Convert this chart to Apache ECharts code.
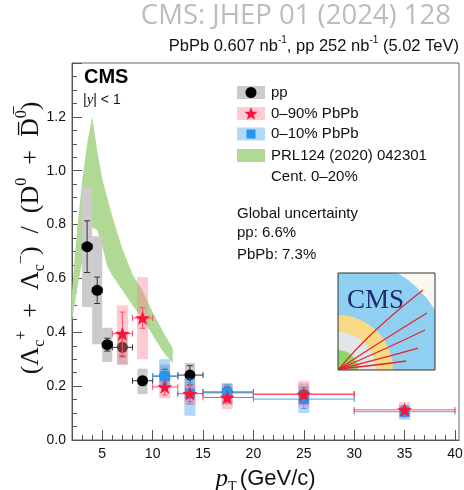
<!DOCTYPE html>
<html>
<head>
<meta charset="utf-8">
<script src="https://cdn.jsdelivr.net/npm/echarts@6/dist/echarts.min.js"></script>
<style>
html, body { margin: 0; padding: 0; background: #fff; }
#chart { width: 464px; height: 490px; }
</style>
</head>
<body>
<div id="chart"></div>
<script>
// pp reference
var ppX = [3.5, 4.5, 5.5, 7, 9, 11.2, 13.7, 17.4, 25];
var ppBinLo = [3, 4, 5, 6, 8, 10, 12.5, 15, 20];
var ppBinHi = [4, 5, 6, 8, 10, 12.5, 15, 20, 30];
var ppY = [0.718, 0.556, 0.354, 0.344, 0.22, 0.237, 0.241, 0.178, 0.17];
var ppStat = [0.096, 0.049, 0.024, 0.035, 0.015, 0.025, 0.035, 0.02, 0.025];
var ppSystLo = [0.494, 0.356, 0.29, 0.28, 0.17, 0.2, 0.19, 0.14, 0.13];
var ppSystHi = [0.94, 0.757, 0.417, 0.4, 0.265, 0.28, 0.286, 0.21, 0.21];

// PbPb 0-90%
var cen90X = [7, 9, 11.2, 13.7, 17.4, 25, 35];
var cen90BinLo = [6, 8, 10, 12.5, 15, 20, 30];
var cen90BinHi = [8, 10, 12.5, 15, 20, 30, 40];
var cen90Y = [0.395, 0.453, 0.197, 0.172, 0.158, 0.169, 0.112];
var cen90Stat = [0.08, 0.038, 0.03, 0.03, 0.02, 0.025, 0.015];
var cen90SystLo = [0.28, 0.3, 0.155, 0.13, 0.115, 0.12, 0.085];
var cen90SystHi = [0.5, 0.605, 0.24, 0.21, 0.2, 0.22, 0.14];

// PbPb 0-10%
var cen10X = [11.2, 13.7, 17.4, 25, 35];
var cen10BinLo = [10, 12.5, 15, 20, 30];
var cen10BinHi = [12.5, 15, 20, 30, 40];
var cen10Y = [0.237, 0.173, 0.175, 0.152, 0.105];
var cen10Stat = [0.03, 0.04, 0.03, 0.035, 0.02];
var cen10SystLo = [0.2, 0.09, 0.13, 0.1, 0.075];
var cen10SystHi = [0.3, 0.23, 0.21, 0.2, 0.13];

// model band, PRL124 (2020) 042301, cent. 0-20%
var bandX = [2, 2.5, 3, 3.5, 4, 4.5, 5, 5.5, 6, 7, 8, 9, 10, 11, 12];
var bandHi = [0.55, 0.78, 0.96, 1.1, 1.2, 1.075, 0.97, 0.9, 0.83, 0.71, 0.615, 0.555, 0.475, 0.405, 0.34];
var bandLo = [0.44, 0.56, 0.66, 0.74, 0.79, 0.78, 0.72, 0.645, 0.61, 0.556, 0.5, 0.45, 0.39, 0.33, 0.285];

var xMajor = [5, 10, 15, 20, 25, 30, 35, 40];

var GREEN = '#afd995';
var GRAY_BOX = '#cbcbcb';
var RED = '#ff1237';
var RED_BOX = 'rgba(255,130,150,0.42)';
var BLUE = '#2a93ee';
var BLUE_BOX = 'rgba(70,160,245,0.42)';
var SANS = 'Liberation Sans';
var SERIF = 'Liberation Serif';

var xMinor = [];
for (var t = 3; t <= 40; t++) {
  if (t % 5 !== 0) xMinor.push(t);
}

function zipPoints(xs, ys, lo, hi, st) {
  return xs.map(function (x, i) { return [x, ys[i], lo[i], hi[i], st[i]]; });
}
function zipBoxes(xs, lo, hi) {
  return xs.map(function (x, i) { return [x, lo[i], hi[i]]; });
}

function boxRender(color, halfW) {
  return function (params, api) {
    var x = api.value(0);
    var a = api.coord([x - halfW, api.value(2)]);
    var b = api.coord([x + halfW, api.value(1)]);
    return {
      type: 'rect',
      shape: { x: a[0], y: a[1], width: b[0] - a[0], height: b[1] - a[1] },
      style: { fill: color }
    };
  };
}

function errRender(color) {
  return function (params, api) {
    var x = api.value(0), y = api.value(1), s = api.value(4);
    var c = api.coord([x, y]);
    var l = api.coord([api.value(2), y]);
    var r = api.coord([api.value(3), y]);
    var top = api.coord([x, y + s]);
    var bot = api.coord([x, y - s]);
    var st = { stroke: color, lineWidth: 1 };
    var cap = 3;
    function ln(x1, y1, x2, y2) {
      return { type: 'line', shape: { x1: x1, y1: y1, x2: x2, y2: y2 }, style: st };
    }
    return {
      type: 'group',
      children: [
        ln(l[0], c[1], r[0], c[1]),
        ln(l[0], c[1] - cap, l[0], c[1] + cap),
        ln(r[0], c[1] - cap, r[0], c[1] + cap),
        ln(c[0], top[1], c[0], bot[1]),
        ln(c[0] - cap, top[1], c[0] + cap, top[1]),
        ln(c[0] - cap, bot[1], c[0] + cap, bot[1])
      ]
    };
  };
}

function bandRender(params, api) {
  var pts = [];
  for (var i = 0; i < bandX.length; i++) pts.push(api.coord([bandX[i], bandHi[i]]));
  for (var j = bandX.length - 1; j >= 0; j--) pts.push(api.coord([bandX[j], bandLo[j]]));
  return { type: 'polygon', shape: { points: pts }, style: { fill: GREEN } };
}

var STAR = 'path://M0,-10 L2.35,-3.24 L9.51,-3.09 L3.8,1.24 L5.88,8.09 L0,4 L-5.88,8.09 L-3.8,1.24 L-9.51,-3.09 L-2.35,-3.24 Z';

function starPoints(cx, cy, ro, ri) {
  var pts = [];
  for (var i = 0; i < 10; i++) {
    var r = i % 2 === 0 ? ro : ri;
    var a = -Math.PI / 2 + i * Math.PI / 5;
    pts.push([cx + r * Math.cos(a), cy + r * Math.sin(a)]);
  }
  return pts;
}

// CMS logo pieces (box 97x97, origin of rings at bottom-left corner)
var LOGO_X = 338, LOGO_Y = 273, LOGO_S = 97;
var blueR = 114;
var bluePts = [[0, LOGO_S], [0, 0]];
var edge = Math.sqrt(blueR * blueR - LOGO_S * LOGO_S);
var a0 = Math.acos(edge / blueR), a1 = Math.asin(edge / blueR);
for (var k = 0; k <= 12; k++) {
  var ang = a0 + (a1 - a0) * k / 12;
  bluePts.push([blueR * Math.cos(ang), LOGO_S - blueR * Math.sin(ang)]);
}
bluePts.push([LOGO_S, LOGO_S]);

function ring(r, color) {
  return {
    type: 'sector',
    shape: { cx: 0, cy: LOGO_S, r0: 0, r: r, startAngle: -Math.PI / 2, endAngle: 0, clockwise: true },
    style: { fill: color }
  };
}
function track(cx, cy, ex, ey) {
  return {
    type: 'bezierCurve',
    shape: { x1: 1, y1: LOGO_S - 1, cpx1: cx, cpy1: cy, x2: ex, y2: ey },
    style: { stroke: '#e3262b', lineWidth: 1.3, fill: null }
  };
}
function label(x, y, text) {
  return { type: 'text', x: x, y: y,
    style: { text: text, font: '15px "Liberation Sans"', fill: '#111', verticalAlign: 'middle' } };
}

var chart = echarts.init(document.getElementById('chart'), null, { renderer: 'canvas' });

var option = {
  animation: false,
  grid: {
    left: 72, right: 5, top: 63, bottom: 50,
    show: true, borderColor: '#666', borderWidth: 1,
    containLabel: false, outerBoundsMode: 'none'
  },
  xAxis: [{
    type: 'value', min: 2, max: 40.4,
    axisLine: { lineStyle: { color: '#555' } },
    axisTick: { inside: true, length: 10, customValues: xMajor, lineStyle: { color: '#555' } },
    axisLabel: { customValues: xMajor, color: '#111', fontFamily: SANS, fontSize: 14, margin: 7 },
    splitLine: { show: false },
    name: '{p|p}{t|T} {n|(GeV/c)}',
    nameLocation: 'middle', nameGap: 24, nameMoveOverlap: false,
    nameTextStyle: {
      rich: {
        p: { fontFamily: SERIF, fontStyle: 'italic', fontSize: 25, color: '#111', lineHeight: 30 },
        t: { fontFamily: SERIF, fontSize: 14, color: '#111', verticalAlign: 'bottom' },
        n: { fontFamily: SANS, fontSize: 22, color: '#111' }
      }
    }
  }, {
    type: 'value', min: 2, max: 40.4, position: 'bottom',
    axisLine: { show: false },
    axisTick: { inside: true, length: 5, customValues: xMinor, lineStyle: { color: '#555' } },
    axisLabel: { show: false },
    splitLine: { show: false }
  }],
  yAxis: {
    type: 'value', min: 0, max: 1.4, interval: 0.2,
    axisLine: { show: true, lineStyle: { color: '#555' } },
    axisTick: { inside: true, length: 10, lineStyle: { color: '#555' } },
    minorTick: { show: true, splitNumber: 4, length: 5, lineStyle: { color: '#555' } },
    axisLabel: {
      color: '#111', fontFamily: SANS, fontSize: 14, margin: 6, showMaxLabel: false,
      formatter: function (v) { return v.toFixed(1); }
    },
    splitLine: { show: false }
  },
  series: [
    { type: 'custom', z: 1, clip: true, data: [[bandX[0], bandHi[0]]],
      encode: { x: 0, y: 1 }, renderItem: bandRender, silent: true },
    { type: 'custom', z: 2, clip: true, data: zipBoxes(ppX, ppSystLo, ppSystHi),
      encode: { x: 0, y: [1, 2] }, renderItem: boxRender(GRAY_BOX, 0.5) },
    { type: 'custom', z: 3, clip: true, data: zipPoints(ppX, ppY, ppBinLo, ppBinHi, ppStat),
      encode: { x: 0, y: 1 }, renderItem: errRender('#333') },
    { type: 'scatter', name: 'pp', z: 4, data: ppX.map(function (x, i) { return [x, ppY[i]]; }),
      symbol: 'circle', symbolSize: 11, itemStyle: { color: '#000', opacity: 1 } },
    { type: 'custom', z: 5, clip: true, data: zipBoxes(cen10X, cen10SystLo, cen10SystHi),
      encode: { x: 0, y: [1, 2] }, renderItem: boxRender(BLUE_BOX, 0.55) },
    { type: 'custom', z: 5, clip: true, data: zipBoxes(cen90X, cen90SystLo, cen90SystHi),
      encode: { x: 0, y: [1, 2] }, renderItem: boxRender(RED_BOX, 0.55) },
    { type: 'custom', z: 6, clip: true, data: zipPoints(cen10X, cen10Y, cen10BinLo, cen10BinHi, cen10Stat),
      encode: { x: 0, y: 1 }, renderItem: errRender('#4aa3f0') },
    { type: 'custom', z: 6, clip: true, data: zipPoints(cen90X, cen90Y, cen90BinLo, cen90BinHi, cen90Stat),
      encode: { x: 0, y: 1 }, renderItem: errRender('#ff4d6a') },
    { type: 'scatter', name: '0-10% PbPb', z: 7, data: cen10X.map(function (x, i) { return [x, cen10Y[i]]; }),
      symbol: 'rect', symbolSize: 10, itemStyle: { color: BLUE, opacity: 1 } },
    { type: 'scatter', name: '0-90% PbPb', z: 8, data: cen90X.map(function (x, i) { return [x, cen90Y[i]]; }),
      symbol: STAR, symbolSize: [15, 14], itemStyle: { color: RED, opacity: 1 } }
  ],
  graphic: [
    { type: 'text', x: 451, y: 16,
      style: { text: 'CMS: JHEP 01 (2024) 128', fill: '#bcbcbc', font: '27.5px "Open Sans"', align: 'right', verticalAlign: 'middle' } },
    { type: 'text', x: 459, y: 46,
      style: {
        text: '{n|PbPb 0.607 nb}{s|-1}{n|, pp 252 nb}{s|-1}{n| (5.02 TeV)}',
        align: 'right', verticalAlign: 'middle',
        rich: {
          n: { fontFamily: SANS, fontSize: 16.5, fill: '#111', lineHeight: 21 },
          s: { fontFamily: SANS, fontSize: 10, fill: '#111', verticalAlign: 'top' }
        }
      } },
    // y axis title
    { type: 'text', x: 31, y: 238, rotation: Math.PI / 2,
      style: {
        text: '{m|(Λ}{sb|c}{sp|+}{m|  +  Λ}{sb|c}{sp|−}{m|)  /  (D}{sp|0}{m|  +  D\u0305}{sp|0\u0305}{m|)}',
        align: 'center', verticalAlign: 'middle',
        rich: {
          m: { fontFamily: SERIF, fontSize: 26, fill: '#111', lineHeight: 34 },
          sb: { fontFamily: SERIF, fontSize: 16, fill: '#111', verticalAlign: 'bottom' },
          sp: { fontFamily: SERIF, fontSize: 16, fill: '#111', verticalAlign: 'top' }
        }
      } },
    { type: 'text', x: 84, y: 77,
      style: { text: 'CMS', fill: '#000', font: 'bold 20px "Liberation Sans"', verticalAlign: 'middle' } },
    { type: 'text', x: 83, y: 100,
      style: {
        text: '{n||}{i|y}{n|| < 1}', verticalAlign: 'middle',
        rich: {
          n: { fontFamily: SANS, fontSize: 14, fill: '#111' },
          i: { fontFamily: SERIF, fontStyle: 'italic', fontSize: 15, fill: '#111' }
        }
      } },
    // legend
    { type: 'rect', shape: { x: 237, y: 86, width: 28, height: 13 }, style: { fill: GRAY_BOX } },
    { type: 'circle', shape: { cx: 251, cy: 92.5, r: 5.5 }, style: { fill: '#000' } },
    label(271, 92.5, 'pp'),
    { type: 'rect', shape: { x: 237, y: 107, width: 28, height: 13 }, style: { fill: RED_BOX } },
    { type: 'polygon', shape: { points: starPoints(251, 114, 7, 2.9) }, style: { fill: RED } },
    label(271, 113.5, '0–90% PbPb'),
    { type: 'rect', shape: { x: 237, y: 127.5, width: 28, height: 13 }, style: { fill: BLUE_BOX } },
    { type: 'rect', shape: { x: 246.5, y: 129.5, width: 9, height: 9 }, style: { fill: BLUE } },
    label(271, 134, '0–10% PbPb'),
    { type: 'rect', shape: { x: 237, y: 149, width: 28, height: 13 }, style: { fill: GREEN } },
    label(271, 155.5, 'PRL124 (2020) 042301'),
    label(271, 176.5, 'Cent. 0–20%'),
    label(237, 214, 'Global uncertainty'),
    label(237, 233, 'pp: 6.6%'),
    label(237, 255, 'PbPb: 7.3%'),
    // CMS logo
    { type: 'group', x: LOGO_X, y: LOGO_Y, children: [
      { type: 'rect', shape: { x: 0, y: 0, width: LOGO_S, height: LOGO_S }, style: { fill: '#fbf8ef' } },
      { type: 'polygon', shape: { points: bluePts }, style: { fill: '#8fd0f2' } },
      ring(55, '#f7d986'),
      ring(38, '#e3e5e8'),
      ring(20, '#8ad866'),
      track(30, 60, 85, 17),
      track(40, 70, 89, 40),
      track(50, 75, 87, 57),
      track(45, 85, 80, 75),
      track(40, 92, 68, 88),
      { type: 'text', x: 9, y: 14, style: { text: 'CMS', font: '27px "Liberation Serif"', fill: '#1f2a70' } },
      { type: 'rect', shape: { x: 0, y: 0, width: LOGO_S, height: LOGO_S }, style: { fill: null, stroke: '#333', lineWidth: 1 } }
    ] }
  ]
};

chart.setOption(option);
</script>
</body>
</html>
